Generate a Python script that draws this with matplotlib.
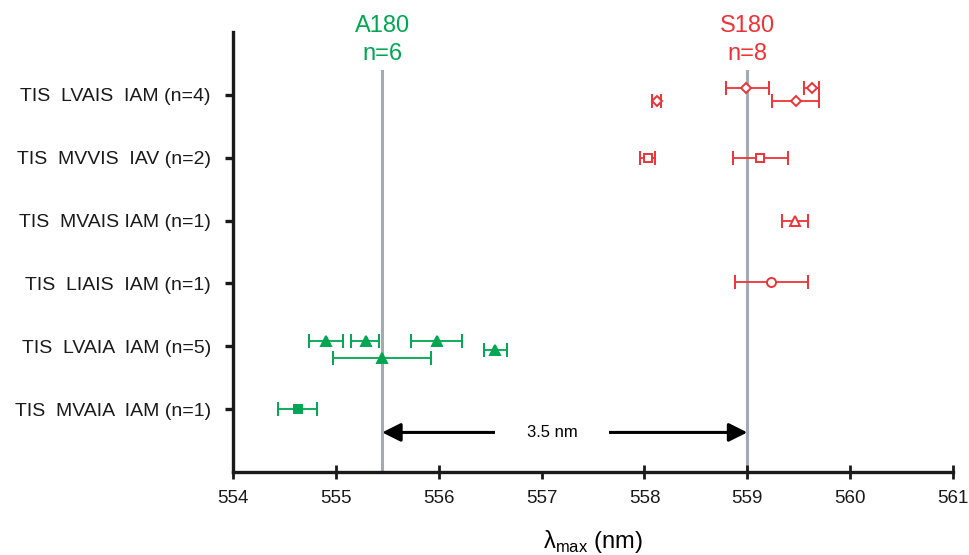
import matplotlib
matplotlib.use("Agg")
import matplotlib.pyplot as plt

plt.rcParams['font.family'] = ['Liberation Sans', 'DejaVu Sans']
plt.rcParams['mathtext.fontset'] = 'custom'
plt.rcParams['mathtext.rm'] = 'Liberation Sans'

RED = '#EE3338'
GREEN = '#00A651'
GREY = '#A3AAB1'

categories = ['TIS  MVAIA  IAM (n=1)', 'TIS  LVAIA  IAM (n=5)', 'TIS  LIAIS  IAM (n=1)',
              'TIS  MVAIS IAM (n=1)', 'TIS  MVVIS  IAV (n=2)', 'TIS  LVAIS  IAM (n=4)']

# lambda max values (nm) with lower / upper error-bar ends
lvais_val = [558.99, 559.63, 558.12, 559.47]
lvais_lo = [558.79, 559.55, 558.07, 559.24]
lvais_hi = [559.21, 559.70, 558.16, 559.70]
lvais_off = [0.10, 0.10, -0.10, -0.10]

mvvis_val = [558.03, 559.12]
mvvis_lo = [557.96, 558.86]
mvvis_hi = [558.10, 559.40]
mvvis_off = [0.0, 0.0]

mvais_val = [559.46]
mvais_lo = [559.34]
mvais_hi = [559.59]
mvais_off = [0.0]

liais_val = [559.23]
liais_lo = [558.88]
liais_hi = [559.59]
liais_off = [0.03]

lvaia_val = [554.90, 555.29, 555.98, 556.55, 555.45]
lvaia_lo = [554.74, 555.15, 555.73, 556.44, 554.97]
lvaia_hi = [555.07, 555.42, 556.23, 556.66, 555.92]
lvaia_off = [0.08, 0.08, 0.08, -0.06, -0.18]

mvaia_val = [554.63]
mvaia_lo = [554.44]
mvaia_hi = [554.82]
mvaia_off = [0.0]

a180 = 555.45
s180 = 559.0
diff_label = '3.5 nm'
xticks = [554, 555, 556, 557, 558, 559, 560, 561]

fig = plt.figure(figsize=(9.69, 5.55), dpi=100)
ax = fig.add_axes([0.2405, 0.1495, 0.743, 0.793])

ax.set_xlim(554, 561)
ax.set_ylim(0, 7)

# reference lines
ax.plot([a180, a180], [0, 6.38], color=GREY, lw=2.2, zorder=1, clip_on=False)
ax.plot([s180, s180], [0, 6.38], color=GREY, lw=2.2, zorder=1, clip_on=False)

rows = [
    (6, lvais_val, lvais_lo, lvais_hi, lvais_off, 'D', RED, 'white', 5.5),
    (5, mvvis_val, mvvis_lo, mvvis_hi, mvvis_off, 's', RED, 'white', 6),
    (4, mvais_val, mvais_lo, mvais_hi, mvais_off, '^', RED, 'white', 6.5),
    (3, liais_val, liais_lo, liais_hi, liais_off, 'o', RED, 'white', 6.5),
    (2, lvaia_val, lvaia_lo, lvaia_hi, lvaia_off, '^', GREEN, GREEN, 6.5),
    (1, mvaia_val, mvaia_lo, mvaia_hi, mvaia_off, 's', GREEN, GREEN, 6),
]
for ypos, vals, lo, hi, off, mk, col, fc, ms in rows:
    ys = [ypos + o for o in off]
    xerr = [[v - l for v, l in zip(vals, lo)], [h - v for v, h in zip(vals, hi)]]
    ax.errorbar(vals, ys, xerr=xerr, fmt=mk, color=col, mfc=fc, mec=col, mew=1.4,
                ms=ms, elinewidth=1.3, capsize=5, capthick=1.3, zorder=3)

# arrow between peaks
ax.annotate('', xy=(a180, 0.63), xytext=(s180, 0.63), zorder=1.8,
            arrowprops=dict(arrowstyle='<|-|>', color='black', lw=2.2,
                            mutation_scale=28, shrinkA=0, shrinkB=0))
ax.text(557.1, 0.63, diff_label, ha='center', va='center', fontsize=12,
        bbox=dict(facecolor='white', edgecolor='none', pad=23), zorder=2)

# headings
ax.text(a180, 6.87, 'A180\nn=6', color=GREEN, ha='center', va='center',
        fontsize=17, linespacing=1.35, clip_on=False)
ax.text(s180, 6.87, 'S180\nn=8', color=RED, ha='center', va='center',
        fontsize=17, linespacing=1.35, clip_on=False)

ax.set_yticks([1, 2, 3, 4, 5, 6])
ax.set_yticklabels(categories)
ax.set_xticks(xticks)
ax.set_xticklabels([str(t) for t in xticks])

for s in ['top', 'right']:
    ax.spines[s].set_visible(False)
for s in ['left', 'bottom']:
    ax.spines[s].set_linewidth(2.4)
    ax.spines[s].set_color('#1a1a1a')
    ax.spines[s].set_zorder(5)

ax.tick_params(axis='y', direction='out', length=6, width=2.4, pad=10,
               labelsize=14, colors='#1a1a1a')
ax.tick_params(axis='x', direction='inout', length=10, width=2.0, pad=8,
               labelsize=13.5, colors='#1a1a1a')

ax.set_xlabel(r'λ$_{\mathrm{max}}$ (nm)', fontsize=17, labelpad=15)

fig.savefig('out.png', dpi=100)
